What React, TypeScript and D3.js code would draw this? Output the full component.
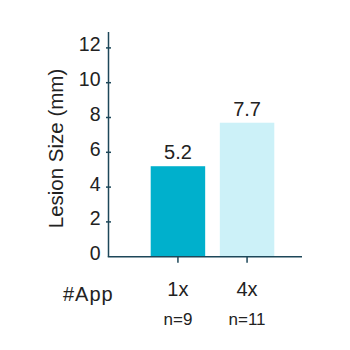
import React from "react";
import * as d3 from "d3";

const categories = ["1x", "4x"];
const sampleSizes = ["n=9", "n=11"];
const values = [5.2, 7.7];
const valueLabels = ["5.2", "7.7"];
const yTicks = [0, 2, 4, 6, 8, 10, 12];
const barColors = ["#00b0cc", "#ccf1f8"];

export default function App() {
  const W = 350, H = 350;
  const axisX = 108.5;
  const y = d3.scaleLinear().domain([0, 12]).range([256.7, 47.9]);
  const x = d3.scaleBand().domain(categories).range([150.7, 274.3]).paddingInner(0.212).paddingOuter(0);
  const axisColor = "#1d4759";
  const font = "'Liberation Sans', Arial, sans-serif";
  const textColor = "#222";
  return (
    <svg width={W} height={H} style={{ position: "absolute", left: 0, top: 0 }} fontFamily={font}>
      <rect width={W} height={H} fill="#fff" />
      {categories.map((c, i) => (
        <rect key={c} x={x(c)!} y={y(values[i])} width={x.bandwidth()} height={y(0) - y(values[i])} fill={barColors[i]} />
      ))}
      {categories.map((c, i) => (
        <text key={"v" + c} x={x(c)! + x.bandwidth() / 2} y={y(values[i]) - 7} textAnchor="middle" fontSize={20} fill={textColor}>{valueLabels[i]}</text>
      ))}
      <line x1={axisX} x2={axisX} y1={32} y2={y(0)} stroke={axisColor} strokeWidth={1.5} />
      <line x1={axisX - 0.75} x2={302} y1={y(0)} y2={y(0)} stroke={axisColor} strokeWidth={1.5} />
      {yTicks.map(t => (
        <g key={t}>
          {t > 0 && <line x1={axisX - 2.5} x2={axisX + 2.5} y1={y(t)} y2={y(t)} stroke={axisColor} strokeWidth={1.5} />}
          <text x={100.5} y={y(t) + 3.5} textAnchor="end" fontSize={19.5} fill={textColor}>{t}</text>
        </g>
      ))}
      {categories.map(c => (
        <line key={"t" + c} x1={x(c)! + x.bandwidth() / 2} x2={x(c)! + x.bandwidth() / 2} y1={y(0)} y2={y(0) + 6} stroke={axisColor} strokeWidth={1.5} />
      ))}
      <text transform={`translate(63,148.5) rotate(-90)`} textAnchor="middle" fontSize={20.5} fill={textColor}>Lesion Size (mm)</text>
      <text x={63} y={301} fontSize={20} fill={textColor} letterSpacing={1}>#App</text>
      {categories.map((c, i) => (
        <g key={"l" + c}>
          <text x={x(c)! + x.bandwidth() / 2} y={296} textAnchor="middle" fontSize={20} fill={textColor}>{c}</text>
          <text x={x(c)! + x.bandwidth() / 2} y={325} textAnchor="middle" fontSize={17} fill={textColor}>{sampleSizes[i]}</text>
        </g>
      ))}
    </svg>
  );
}
